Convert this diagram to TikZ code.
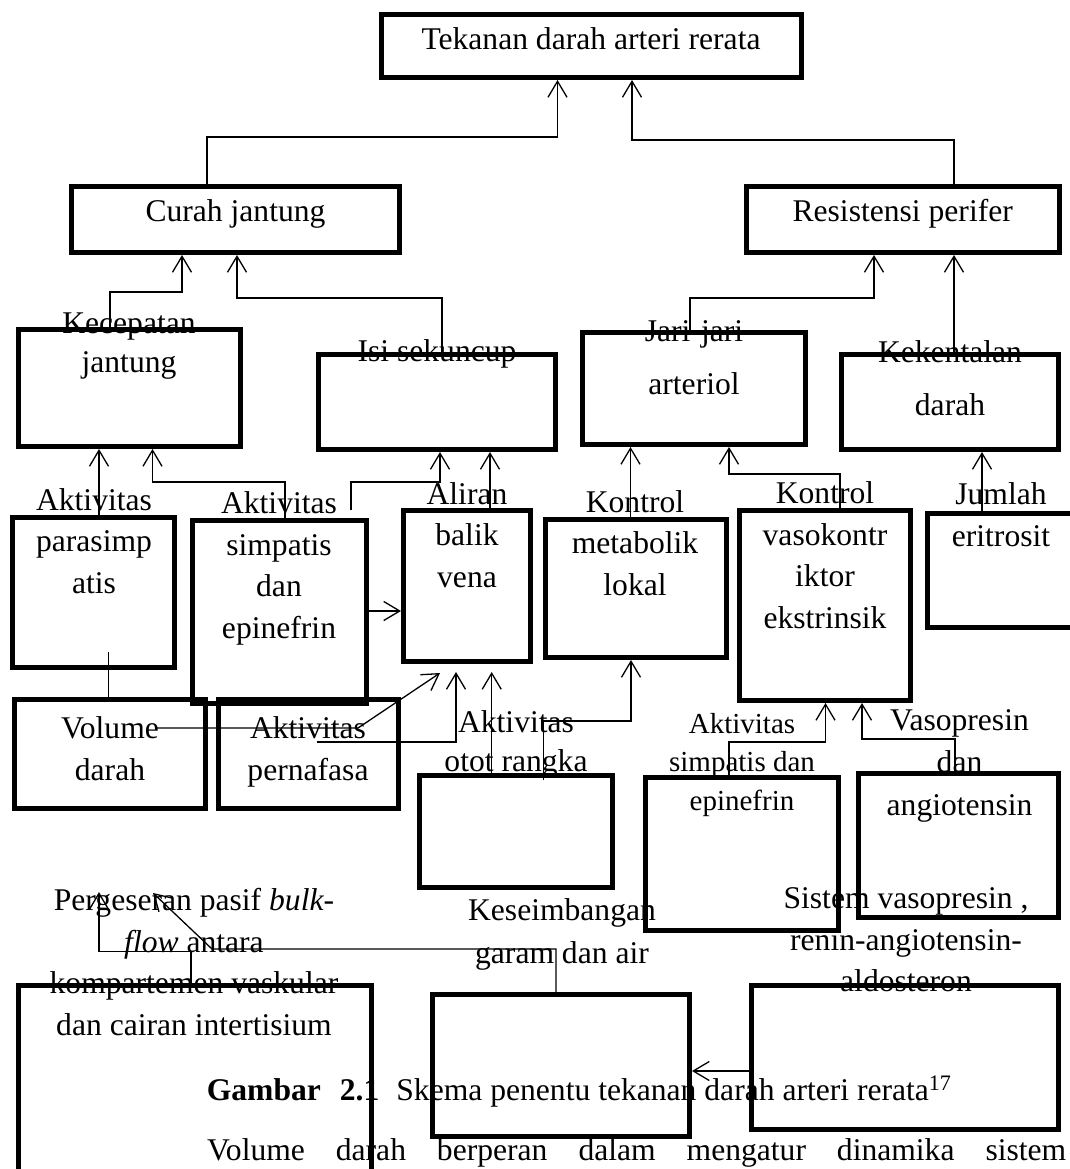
\documentclass[tikz,border=0pt]{standalone}
\usepackage{fontspec}
\setmainfont{Liberation Serif}
\usetikzlibrary{arrows.meta,fit}

\begin{document}
\begin{tikzpicture}[x=1pt,y=-1pt,
  kotak/.style={draw, line width=5pt, inner sep=0pt},
  teks/.style={anchor=base, align=center, inner sep=0pt, font=\fontsize{31.6}{41.5}\selectfont},
  tekskecil/.style={teks, font=\fontsize{29}{38.5}\selectfont},
  garis/.style={line width=1.3pt},
  panah/.style={garis, -{Straight Barb[length=16pt,width=19pt]}}]

\useasboundingbox (0,0) rectangle (1070,1169);
\clip (0,0) rectangle (1070,1169);

\node[kotak, fit={(381.5,14.5) (801.5,77.5)}]      (tekanan) {};
\node[kotak, fit={(71.5,186.5) (399.5,252.5)}]     (curah) {};
\node[kotak, fit={(746,186.5) (1059.5,252.5)}]     (resistensi) {};
\node[kotak, fit={(18,329.5) (240.5,446.5)}]       (kecepatan) {};
\node[kotak, fit={(318.5,354.5) (555,449.5)}]      (isi) {};
\node[kotak, fit={(582.5,332.5) (805.5,444.5)}]    (jari) {};
\node[kotak, fit={(841.5,354.5) (1058.5,449.5)}]   (kekentalan) {};
\node[kotak, fit={(12.5,517.5) (174.5,667.5)}]     (parasimpatis) {};
\node[kotak, fit={(192.5,520.5) (366.5,703.5)}]    (simpatis) {};
\node[kotak, fit={(403.5,510.5) (530.5,661.5)}]    (aliran) {};
\node[kotak, fit={(545.5,519.5) (726.5,657.5)}]    (metabolik) {};
\node[kotak, fit={(739.5,510.5) (910.5,700.5)}]    (vasokontriktor) {};
\node[kotak, fit={(927.5,513.5) (1078,627.5)}]     (jumlah) {};
\node[kotak, fit={(14.5,699.5) (205.5,808.5)}]     (volume) {};
\node[kotak, fit={(218.5,699.5) (398,808.5)}]      (pernafasan) {};
\node[kotak, fit={(419.5,775.5) (612.5,887.5)}]    (otot) {};
\node[kotak, fit={(645.5,777.5) (838.5,930.5)}]    (epinefrin) {};
\node[kotak, fit={(858.5,773.5) (1058.5,917.5)}]   (angiotensin) {};
\node[kotak, fit={(18,985.5) (371,1200)}]          (pergeseran) {};
\node[kotak, fit={(432.5,994.5) (689.5,1136.5)}]   (keseimbangan) {};
\node[kotak, fit={(751.5,985.5) (1058.5,1129.5)}]  (sistem) {};

% base = baseline of the last line
\node[teks] (tTekanan)      at (591,50)    {Tekanan darah arteri rerata};
\node[teks] (tCurah)        at (235.5,222) {Curah jantung};
\node[teks] (tResistensi)   at (902.7,222) {Resistensi perifer};
\node[teks] (tKecepatan)    at (129,372)   {Kecepatan\\[-2.5pt]jantung};
\node[teks] (tIsi)          at (437,361)   {Isi sekuncup};
\node[teks] (tJari)         at (694,394)   {Jari-jari\\[11.5pt]arteriol};
\node[teks] (tKekentalan)   at (950,415)   {Kekentalan\\[11.5pt]darah};
\node[teks] (tParasimpatis) at (94,593)    {Aktivitas\\parasimp\\atis};
\node[teks] (tSimpatis)     at (279,638)   {Aktivitas\\simpatis\\dan\\epinefrin};
\node[teks] (tAliran)       at (467,587)   {Aliran\\balik\\vena};
\node[teks] (tMetabolik)    at (635,595)   {Kontrol\\metabolik\\lokal};
\node[teks] (tVaso)         at (825,628.3) {Kontrol\\vasokontr\\iktor\\ekstrinsik};
\node[teks] (tJumlah)       at (1001,546)  {Jumlah\\eritrosit};
\node[teks] (tVolume)       at (110,780)   {Volume\\darah};
\node[teks] (tPernafasan)   at (308,780)   {Aktivitas\\pernafasa};
\node[teks] (tOtot)         at (516,771.7) {Aktivitas\\[-2.5pt]otot rangka};
\node[tekskecil] (tEpinefrin) at (742,810) {Aktivitas\\simpatis dan\\epinefrin};
\node[teks] (tAngiotensin)  at (959.5,815) {Vasopresin\\dan\\[1.5pt]angiotensin};
\node[teks] (tPergeseran)   at (194,1035)  {Pergeseran pasif \textit{bulk-}\\\textit{flow} antara\\kompartemen vaskular\\dan cairan intertisium};
\node[teks] (tKeseimbangan) at (562,963.3) {Keseimbangan\\[1.5pt]garam dan air};
\node[teks] (tSistem)       at (906,991.7) {Sistem vasopresin ,\\renin-angiotensin-\\aldosteron};

\node[teks, anchor=base west] (judul) at (206.6,1100) {\textbf{Gambar}\hspace{19pt}\textbf{2.1}\hspace{17pt}Skema penentu tekanan darah arteri rerata\textsuperscript{17}};
\node[teks, anchor=base west] (paragraf) at (207,1160) {\hbox to 859pt{Volume\hfill darah\hfill berperan\hfill dalam\hfill mengatur\hfill dinamika\hfill sistem}};

\coordinate (p1) at (207,137);   \coordinate (q1) at (557.5,137);
\coordinate (p2) at (954,140);   \coordinate (q2) at (632,140);
\coordinate (p3) at (110,292);   \coordinate (q3) at (182,292);
\coordinate (p4) at (442,298);   \coordinate (q4) at (237,298);
\coordinate (p5) at (690,298);   \coordinate (q5) at (874,298);
\coordinate (x7) at (99,0);
\coordinate (p8) at (285,482);   \coordinate (q8) at (152.5,482);
\coordinate (f9) at (351,510);   \coordinate (q9) at (440,482);
\coordinate (x10) at (490,0);
\coordinate (y11) at (0,611);
\coordinate (x12) at (630.5,0);
\coordinate (p13) at (840,474);  \coordinate (q13) at (729,474);
\coordinate (x14) at (982,0);
\coordinate (f15) at (108.5,652);
\coordinate (f16) at (155,728);  \coordinate (b16) at (358,728);  \coordinate (t16) at (440,673);
\coordinate (f17) at (317,742);  \coordinate (q17) at (456,742);
\coordinate (x18) at (491.7,0);
\coordinate (f19) at (543.5,780); \coordinate (q19) at (631,721);
\coordinate (p20) at (729,742);  \coordinate (q20) at (825.5,742);
\coordinate (p21) at (955,739);  \coordinate (q21) at (862,739);
\coordinate (p22) at (191,951.7); \coordinate (t22) at (99,892);
\coordinate (p23) at (556,949);  \coordinate (b23) at (212,949);  \coordinate (t23) at (153,893);
\coordinate (y24) at (0,1071);

\draw[panah] (curah.north -| p1) |- (q1) -- (tekanan.south -| q1);
\draw[panah] (resistensi.north -| p2) |- (q2) -- (tekanan.south -| q2);
\draw[panah] (kecepatan.north -| p3) |- (q3) -- (curah.south -| q3);
\draw[panah] (isi.north -| p4) |- (q4) -- (curah.south -| q4);
\draw[panah] (jari.north -| p5) |- (q5) -- (resistensi.south -| q5);
\draw[panah] (kekentalan.north -| p2) -- (resistensi.south -| p2);
\draw[panah] (parasimpatis.north -| x7) -- (kecepatan.south -| x7);
\draw[panah] (simpatis.north -| p8) |- (q8) -- (kecepatan.south -| q8);
\draw[panah] (f9) |- (q9) -- (isi.south -| q9);
\draw[panah] (aliran.north -| x10) -- (isi.south -| x10);
\draw[panah] (simpatis.east |- y11) -- (aliran.west |- y11);
\draw[panah] (metabolik.north -| x12) -- (jari.south -| x12);
\draw[panah] (vasokontriktor.north -| p13) |- (q13) -- (jari.south -| q13);
\draw[panah] (jumlah.north -| x14) -- (kekentalan.south -| x14);
\draw[garis] (volume.north -| f15) -- (f15);
\draw[panah] (f16) -- (b16) -- (t16);
\draw[panah, shorten >=8pt] (f17) -- (q17) -- (aliran.south -| q17);
\draw[panah, shorten >=8pt] (otot.north -| x18) -- (aliran.south -| x18);
\draw[panah] (f19) |- (q19) -- (metabolik.south -| q19);
\draw[panah] (epinefrin.north -| p20) |- (q20) -- (vasokontriktor.south -| q20);
\draw[panah] (angiotensin.north -| p21) |- (q21) -- (vasokontriktor.south -| q21);
\draw[panah] (pergeseran.north -| p22) -- (p22) -| (t22);
\draw[panah] (keseimbangan.north -| p23) -- (p23) -- (b23) -- (t23);
\draw[panah] (sistem.west |- y24) -- (keseimbangan.east |- y24);

\end{tikzpicture}
\end{document}
